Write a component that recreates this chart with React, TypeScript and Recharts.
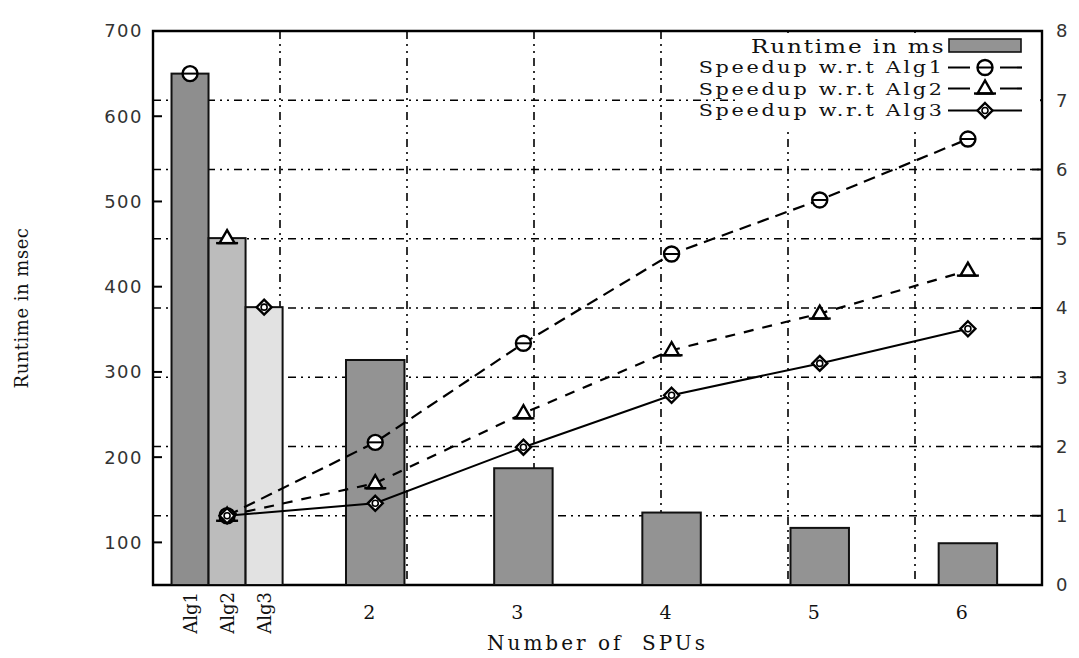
import React from "react";
import { Bar, Cell, CartesianGrid, ComposedChart, Line, ReferenceArea, XAxis, YAxis } from "recharts";

const runtimeLabels = ["Alg1", "Alg2", "Alg3", "2", "3", "4", "5", "6"];
const runtimeX = [0.75, 1, 1.25, 2, 3, 4, 5, 6];
const runtimeMs = [650, 457, 376, 314, 187, 135, 117, 99];

const speedupX = [1, 2, 3, 4, 5, 6];
const speedupAlg1 = [1.0, 2.06, 3.49, 4.78, 5.56, 6.44];
const speedupAlg2 = [1.0, 1.47, 2.48, 3.39, 3.92, 4.54];
const speedupAlg3 = [1.0, 1.18, 1.99, 2.74, 3.2, 3.7];

const leftTicks = [100, 200, 300, 400, 500, 600, 700];
const rightTicks = [0, 1, 2, 3, 4, 5, 6, 7, 8];
const gridX = [1, 2, 3, 4, 5, 6];

const BAR_FILLS = ["#8e8e8e", "#bcbcbc", "#e2e2e2"];
const SPU_FILL = "#939393";
const SERIF = "'DejaVu Serif', serif";
const SANS = "'DejaVu Sans', sans-serif";

const allX = Array.from(new Set([...runtimeX, ...speedupX])).sort((a, b) => a - b);
const data = allX.map((x) => {
  const ri = runtimeX.indexOf(x);
  const si = speedupX.indexOf(x);
  return {
    x,
    label: ri >= 0 ? runtimeLabels[ri] : String(x),
    runtime: ri >= 0 ? runtimeMs[ri] : null,
    base: ri >= 0 && ri < 3 ? runtimeMs[ri] : null,
    s1: si >= 0 ? speedupAlg1[si] : null,
    s2: si >= 0 ? speedupAlg2[si] : null,
    s3: si >= 0 ? speedupAlg3[si] : null
  };
});

function Marker({ kind, cx, cy }: { kind: number; cx?: number; cy?: number }) {
  if (cx == null || cy == null || Number.isNaN(cy)) return null;
  if (kind === 1) {
    return (
      <g>
        <circle cx={cx} cy={cy} r={7.5} fill="#fff" stroke="#000" strokeWidth={2.4} />
        <line x1={cx - 7} x2={cx + 7} y1={cy} y2={cy} stroke="#000" strokeWidth={2} />
      </g>
    );
  }
  if (kind === 2) {
    return (
      <g>
        <polygon
          points={`${cx},${cy - 8} ${cx - 7.5},${cy + 5} ${cx + 7.5},${cy + 5}`}
          fill="#fff"
          stroke="#000"
          strokeWidth={2.4}
        />
        <line x1={cx - 11} x2={cx + 11} y1={cy + 5} y2={cy + 5} stroke="#000" strokeWidth={2.4} />
      </g>
    );
  }
  return (
    <g>
      <polygon
        points={`${cx},${cy - 7.5} ${cx + 7.5},${cy} ${cx},${cy + 7.5} ${cx - 7.5},${cy}`}
        fill="#fff"
        stroke="#000"
        strokeWidth={2.4}
      />
      <circle cx={cx} cy={cy} r={3} fill="#fff" stroke="#000" strokeWidth={1.6} />
    </g>
  );
}

function RuntimeBar(props: any) {
  const { x, y, width, height, fill, payload } = props;
  if (height == null || height <= 0) return null;
  const isAlg = String(payload.label).startsWith("Alg");
  const w = isAlg ? width : width * 1.58;
  const left = x + width / 2 - w / 2;
  return <rect x={left} y={y} width={w} height={height} fill={fill} stroke="#111" strokeWidth={2} />;
}

function LeftTick(props: any) {
  const { x, y, payload } = props;
  return (
    <g>
      <text x={x} y={y} dy="0.36em" textAnchor="end" fontFamily={SANS} fontSize={18} letterSpacing={1.5} fill="#333">
        {payload.value}
      </text>
      <line x1={x + 10} x2={x + 19} y1={y} y2={y} stroke="#000" strokeWidth={2} />
    </g>
  );
}

function RightTick(props: any) {
  const { x, y, payload } = props;
  return (
    <g>
      <text x={x} y={y} dy="0.36em" textAnchor="start" fontFamily={SANS} fontSize={18} fill="#333">
        {payload.value}
      </text>
      <line x1={x - 14} x2={x - 24} y1={y} y2={y} stroke="#000" strokeWidth={2} />
    </g>
  );
}

function BottomTick(props: any) {
  const { x, y, payload } = props;
  const idx = runtimeX.indexOf(payload.value);
  const label = idx >= 0 ? runtimeLabels[idx] : String(payload.value);
  if (label.startsWith("Alg")) {
    return (
      <text
        x={x}
        y={y + 7}
        transform={`rotate(-90 ${x} ${y + 7})`}
        dy="0.36em"
        textAnchor="end"
        fontFamily={SERIF}
        fontSize={18}
        fill="#111"
      >
        {label}
      </text>
    );
  }
  return (
    <text x={x - 6} y={y + 34} textAnchor="middle" fontFamily={SERIF} fontSize={19} fill="#111">
      {label}
    </text>
  );
}

const legendRows = [
  { name: "Runtime in ms", kind: 0 },
  { name: "Speedup w.r.t Alg1", kind: 1 },
  { name: "Speedup w.r.t Alg2", kind: 2 },
  { name: "Speedup w.r.t Alg3", kind: 3 }
];

function LegendSample({ kind }: { kind: number }) {
  return (
    <svg width={74} height={21} style={{ display: "block" }}>
      {kind === 0 ? (
        <rect x={1} y={4} width={72} height={13} fill={SPU_FILL} stroke="#111" strokeWidth={1.6} />
      ) : (
        <>
          <line
            x1={0}
            x2={74}
            y1={10.5}
            y2={10.5}
            stroke="#000"
            strokeWidth={2.2}
            strokeDasharray={kind === 3 ? undefined : "22 30"}
          />
          <Marker kind={kind} cx={37} cy={10.5} />
        </>
      )}
    </svg>
  );
}

function LegendBox() {
  return (
    <div
      style={{
        position: "absolute",
        right: 39,
        top: 33,
        padding: "2px 18px 6px 8px",
        background: "#fff"
      }}
    >
      {legendRows.map((row) => (
        <div key={row.name} style={{ display: "flex", justifyContent: "flex-end", alignItems: "center", height: 21.5 }}>
          <span
            style={{
              display: "inline-block",
              fontFamily: SERIF,
              fontSize: row.kind === 0 ? 19 : 17,
              letterSpacing: row.kind === 0 ? 1.5 : 2.2,
              lineHeight: "20px",
              color: "#111",
              marginRight: 3,
              whiteSpace: "pre",
              transform: "scaleX(1.22)",
              transformOrigin: "right center"
            }}
          >
            {row.name}
          </span>
          <LegendSample kind={row.kind} />
        </div>
      ))}
    </div>
  );
}

const dotFor = (kind: number) => (p: any) => <Marker key={`m${kind}-${p.index}`} kind={kind} cx={p.cx} cy={p.cy} />;
const baseDot = (p: any) => {
  const idx = runtimeLabels.indexOf(p.payload?.label);
  return <Marker key={`b-${p.index}`} kind={idx + 1} cx={p.cx} cy={p.cy} />;
};

export default function App() {
  return (
    <div style={{ position: "absolute", left: 0, top: 0, width: 1079, height: 658, background: "#fff" }}>
      <ComposedChart
        width={1079}
        height={658}
        data={data}
        barCategoryGap={0}
        margin={{ top: 31, right: 0, bottom: 0, left: 0 }}
      >
        <XAxis
          xAxisId="main"
          dataKey="x"
          type="number"
          domain={[0.5, 6.5]}
          ticks={runtimeX}
          interval={0}
          height={73}
          axisLine={false}
          tickLine={false}
          tickSize={0}
          tickMargin={0}
          tick={BottomTick}
          allowDataOverflow
          label={{
            value: "Number of\u00a0 SPUs",
            position: "insideBottom",
            offset: 8,
            style: { fontFamily: SERIF, fontSize: 20, letterSpacing: 3, fill: "#111" }
          }}
        />
        <XAxis
          xAxisId="grid"
          orientation="top"
          type="number"
          domain={[0.5, 6.5]}
          ticks={gridX}
          height={0}
          hide
          allowDataOverflow
        />
        <YAxis
          yAxisId="left"
          orientation="left"
          type="number"
          domain={[50, 700]}
          ticks={leftTicks}
          interval={0}
          width={153}
          axisLine={false}
          tickLine={false}
          tickSize={0}
          tickMargin={10}
          tick={LeftTick}
          allowDataOverflow
          label={{
            value: "Runtime in msec",
            angle: -90,
            position: "insideLeft",
            offset: 22,
            style: { textAnchor: "middle", fontFamily: SERIF, fontSize: 18, letterSpacing: 0.5, fill: "#111" }
          }}
        />
        <YAxis
          yAxisId="right"
          orientation="right"
          type="number"
          domain={[0, 8]}
          ticks={rightTicks}
          interval={0}
          width={37}
          axisLine={false}
          tickLine={false}
          tickSize={0}
          tickMargin={14}
          tick={RightTick}
          allowDataOverflow
        />
        <CartesianGrid
          xAxisId="grid"
          yAxisId="right"
          stroke="#000"
          strokeWidth={1.6}
          strokeDasharray="8 5 2 5 2 5"
        />
        <Bar xAxisId="main" yAxisId="left" dataKey="runtime" shape={RuntimeBar} isAnimationActive={false}>
          {data.map((d, i) => (
            <Cell key={d.label} fill={i < 3 ? BAR_FILLS[i] : SPU_FILL} />
          ))}
        </Bar>
        <Line
          xAxisId="main"
          yAxisId="right"
          dataKey="s1"
          stroke="#000"
          strokeWidth={2.2}
          strokeDasharray="12 7"
          connectNulls
          dot={dotFor(1)}
          activeDot={false}
          isAnimationActive={false}
        />
        <Line
          xAxisId="main"
          yAxisId="right"
          dataKey="s2"
          stroke="#000"
          strokeWidth={2.2}
          strokeDasharray="10 9"
          connectNulls
          dot={dotFor(2)}
          activeDot={false}
          isAnimationActive={false}
        />
        <Line
          xAxisId="main"
          yAxisId="right"
          dataKey="s3"
          stroke="#000"
          strokeWidth={2}
          connectNulls
          dot={dotFor(3)}
          activeDot={false}
          isAnimationActive={false}
        />
        <Line
          xAxisId="main"
          yAxisId="left"
          dataKey="base"
          stroke="none"
          dot={baseDot}
          activeDot={false}
          isAnimationActive={false}
        />
        <ReferenceArea
          xAxisId="main"
          yAxisId="left"
          x1={0.5}
          x2={6.5}
          y1={50}
          y2={700}
          fill="none"
          stroke="#000"
          strokeWidth={2.4}
        />
      </ComposedChart>
      <LegendBox />
    </div>
  );
}
